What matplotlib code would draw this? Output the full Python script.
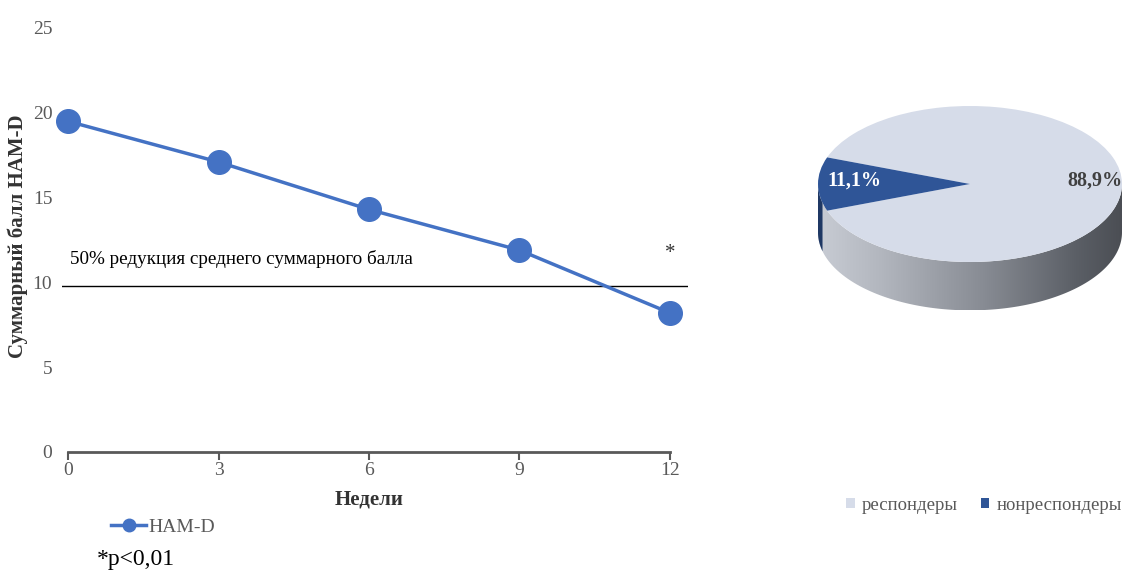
import numpy as np
import matplotlib
matplotlib.use("Agg")
import matplotlib.pyplot as plt
from matplotlib.colors import LinearSegmentedColormap
from matplotlib.patches import Polygon
from matplotlib.lines import Line2D

plt.rcParams['font.family'] = ['Liberation Serif', 'DejaVu Serif']

# HAM-D total score over weeks
weeks = [0, 3, 6, 9, 12]
ham_d = [19.5, 17.1, 14.3, 11.9, 8.2]
reduction_level = 9.8
y_ticks = [0, 5, 10, 15, 20, 25]

# Responder share at week 12
pie_labels = ['респондеры', 'нонреспондеры']
pie_values = [88.9, 11.1]
pie_colors = ['#d6dce9', '#2f5597']

W, H = 1126, 572
fig = plt.figure(figsize=(W / 100, H / 100), dpi=100)

def px_axes(x0, y0, x1, y1):
    return fig.add_axes([x0 / W, 1 - y1 / H, (x1 - x0) / W, (y1 - y0) / H])

# ---------- line chart ----------
ax = px_axes(62, 28, 688, 452)
ax.set_xlim(-0.12, 12.36)
ax.set_ylim(0, 25)
line_color = '#4472c4'
ax.plot(weeks, ham_d, color=line_color, lw=2.5, marker='o', ms=17,
        mfc=line_color, mec=line_color, clip_on=False, zorder=3, label='HAM-D')
ax.axhline(reduction_level, color='black', lw=1, zorder=2)
ax.text(0.04, reduction_level + 1.6, '50% редукция среднего суммарного балла',
        fontsize=13.8, color='black', va='center', ha='left')
ax.text(12, 11.7, '*', fontsize=15, ha='center', va='center', color='#333333')

for s in ['top', 'right', 'left']:
    ax.spines[s].set_visible(False)
ax.spines['bottom'].set_bounds(0, 12)
ax.spines['bottom'].set_color('#595959')
ax.spines['bottom'].set_linewidth(2)
ax.set_xticks(weeks)
ax.set_yticks(y_ticks)
ax.tick_params(axis='x', colors='#595959', length=6, width=1.5, labelsize=14, pad=1)
ax.tick_params(axis='y', colors='#595959', length=0, labelsize=14, pad=7)
ax.set_xlabel('Недели', fontsize=15, fontweight='bold', color='#333333')
ax.xaxis.set_label_coords((369 - 62) / 626, -(490 - 452) / 424)
fig.text(18 / W, 1 - 236 / H, 'Суммарный балл HAM-D', rotation=90, fontsize=15,
         fontweight='bold', color='#333333', ha='center', va='center')

fig.legend(handles=[Line2D([], [], color=line_color, lw=2.5, marker='o', ms=9)],
           labels=['HAM-D'], loc='center', bbox_to_anchor=(163 / W, 1 - 527 / H),
           frameon=False, fontsize=14, handlelength=1.8, handletextpad=0.1,
           labelcolor='#595959')
fig.text(97 / W, 1 - 559 / H, '*p<0,01', fontsize=17, color='black', ha='left', va='center')

# ---------- 3D-style pie ----------
cx, cy, a, b = 970, 184, 152, 78
depth = 0.62
pax = px_axes(800, 80, 1126, 340)
wedges, _ = pax.pie(pie_values, colors=pie_colors, startangle=200, counterclock=True,
                    wedgeprops=dict(linewidth=0))
for w in wedges:
    w.set_zorder(3)

# side wall of the disc
t = np.linspace(np.pi, 2 * np.pi, 200)
top = np.column_stack([np.cos(t), np.sin(t)])
bot = np.column_stack([np.cos(t[::-1]), np.sin(t[::-1]) - depth])
side = Polygon(np.vstack([top, bot]), closed=True, facecolor='none', edgecolor='none')
pax.add_patch(side)
side_cmap = LinearSegmentedColormap.from_list(
    'side', [(0, '#c8ccd4'), (0.2, '#b3b7bf'), (0.55, '#878b93'),
             (0.85, '#5b5f66'), (1, '#4b4e54')])
grad = np.linspace(0, 1, 256).reshape(1, -1)
im = pax.imshow(grad, cmap=side_cmap, extent=[-1, 1, -1 - depth, 0], aspect='auto',
                zorder=1, interpolation='bicubic')
im.set_clip_path(side)

# dark sliver of the small slice on the wall
t2 = np.linspace(np.pi, np.deg2rad(194), 30)
top2 = np.column_stack([np.cos(t2), np.sin(t2)])
bot2 = np.column_stack([np.cos(t2[::-1]), np.sin(t2[::-1]) - depth])
pax.add_patch(Polygon(np.vstack([top2, bot2]), closed=True, facecolor='#1f3864',
                      edgecolor='none', zorder=2))
pax.set_aspect('auto')
pax.set_xlim((800 - cx) / a, (1126 - cx) / a)
pax.set_ylim((cy - 340) / b, (cy - 80) / b)
pax.axis('off')

def pct(v):
    return f'{v:.1f}%'.replace('.', ',')

pax.text((1095 - cx) / a, 0.05, pct(pie_values[0]), fontsize=14.5, fontweight='bold',
         color='#404040', ha='center', va='center', zorder=5)
pax.text((854 - cx) / a, 0.05, pct(pie_values[1]), fontsize=14.5, fontweight='bold',
         color='white', ha='center', va='center', zorder=5)

fig.legend(handles=wedges, labels=pie_labels, loc='center',
           bbox_to_anchor=(984 / W, 1 - 505 / H), ncol=2, frameon=False,
           fontsize=13.5, handlelength=0.45, handleheight=0.45, handletextpad=0.4,
           columnspacing=1.2, labelcolor='#595959')

fig.savefig('out.png', dpi=100)
